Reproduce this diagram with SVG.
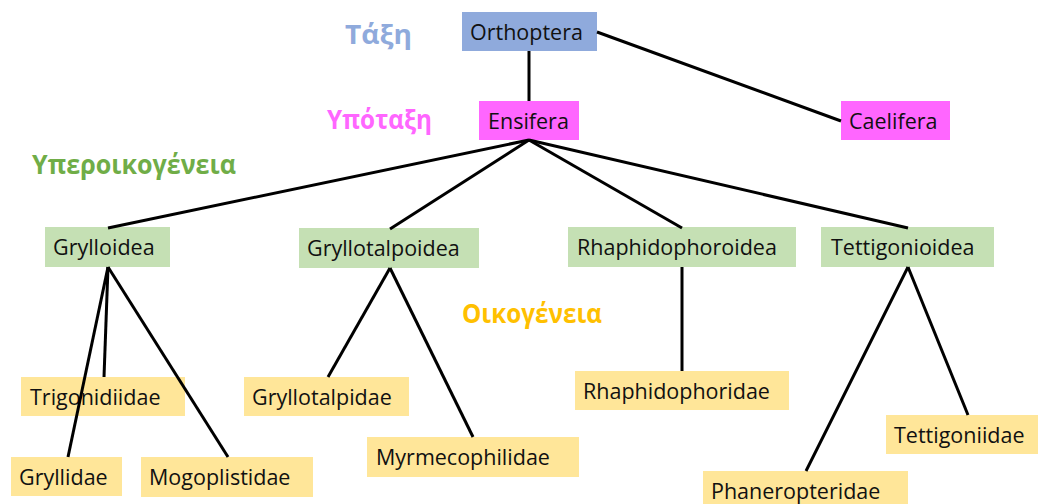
<svg xmlns="http://www.w3.org/2000/svg" width="1040" height="504" viewBox="0 0 1040 504">
<style>
.n text{font-family:"Open Sans","Liberation Sans",sans-serif;font-size:21.5px;fill:#111}
.blue rect{fill:#8FAADC}
.pink rect{fill:#FF66FF}
.green rect{fill:#C5E0B4}
.yellow rect{fill:#FFE699}
.lvl{font-family:"Open Sans","Liberation Sans",sans-serif;font-size:27.5px;font-weight:bold}
#edges line{stroke:#000;stroke-width:3;stroke-linecap:butt}
</style>
<rect width="1040" height="504" fill="#fff"/>
<g id="labels">
<text class="lvl" x="345" y="44" fill="#8FAADC" textLength="67" lengthAdjust="spacingAndGlyphs">Τάξη</text>
<text class="lvl" x="327" y="129" fill="#FF66FF" textLength="105" lengthAdjust="spacingAndGlyphs">Υπόταξη</text>
<text class="lvl" x="32" y="174" fill="#70AD47" textLength="204" lengthAdjust="spacingAndGlyphs">Υπεροικογένεια</text>
<text class="lvl" x="462" y="323" fill="#FFC000" textLength="140" lengthAdjust="spacingAndGlyphs">Οικογένεια</text>
</g>
<g id="orthoptera" class="n blue"><rect x="462" y="12" width="135" height="39"/><text x="470" y="39.5">Orthoptera</text></g>
<g id="ensifera" class="n pink"><rect x="479" y="101" width="100" height="39"/><text x="488" y="128.5">Ensifera</text></g>
<g id="caelifera" class="n pink"><rect x="841" y="101" width="109" height="39"/><text x="849" y="128.5">Caelifera</text></g>
<g id="grylloidea" class="n green"><rect x="45" y="227" width="125" height="40"/><text x="53" y="255">Grylloidea</text></g>
<g id="gryllotalpoidea" class="n green"><rect x="299" y="228" width="180" height="40"/><text x="307" y="256">Gryllotalpoidea</text></g>
<g id="rhaphidophoroidea" class="n green"><rect x="568" y="227" width="228" height="40"/><text x="577" y="255">Rhaphidophoroidea</text></g>
<g id="tettigonioidea" class="n green"><rect x="821" y="227" width="173" height="40"/><text x="831" y="255">Tettigonioidea</text></g>
<g id="trigonidiidae" class="n yellow"><rect x="21" y="377" width="164" height="39"/><text x="30" y="404.5">Trigonidiidae</text></g>
<g id="gryllidae" class="n yellow"><rect x="11" y="457" width="111" height="39"/><text x="19" y="484.5">Gryllidae</text></g>
<g id="mogoplistidae" class="n yellow"><rect x="141" y="457" width="172" height="40"/><text x="149" y="485">Mogoplistidae</text></g>
<g id="gryllotalpidae" class="n yellow"><rect x="244" y="377" width="165" height="39"/><text x="252" y="404.5">Gryllotalpidae</text></g>
<g id="myrmecophilidae" class="n yellow"><rect x="367" y="437" width="212" height="40"/><text x="376" y="465">Myrmecophilidae</text></g>
<g id="rhaphidophoridae" class="n yellow"><rect x="575" y="371" width="214" height="39"/><text x="583" y="398.5">Rhaphidophoridae</text></g>
<g id="tettigoniidae" class="n yellow"><rect x="886" y="415" width="152" height="39"/><text x="894" y="442.5">Tettigoniidae</text></g>
<g id="phaneropteridae" class="n yellow"><rect x="703" y="471" width="205" height="40"/><text x="711" y="499">Phaneropteridae</text></g>
<g id="edges">
<line x1="529" y1="51" x2="529" y2="101"/>
<line x1="597" y1="32" x2="841" y2="121"/>
<line x1="529" y1="140" x2="108" y2="228"/>
<line x1="529" y1="140" x2="390" y2="229"/>
<line x1="529" y1="140" x2="682" y2="228"/>
<line x1="529" y1="140" x2="908" y2="228"/>
<line x1="108" y1="267" x2="104" y2="377"/>
<line x1="108" y1="267" x2="68" y2="457"/>
<line x1="108" y1="267" x2="228" y2="457"/>
<line x1="390" y1="268" x2="328" y2="377"/>
<line x1="390" y1="268" x2="473" y2="437"/>
<line x1="682" y1="267" x2="682" y2="371"/>
<line x1="908" y1="267" x2="806" y2="471"/>
<line x1="908" y1="267" x2="968" y2="415"/>
</g>
</svg>
